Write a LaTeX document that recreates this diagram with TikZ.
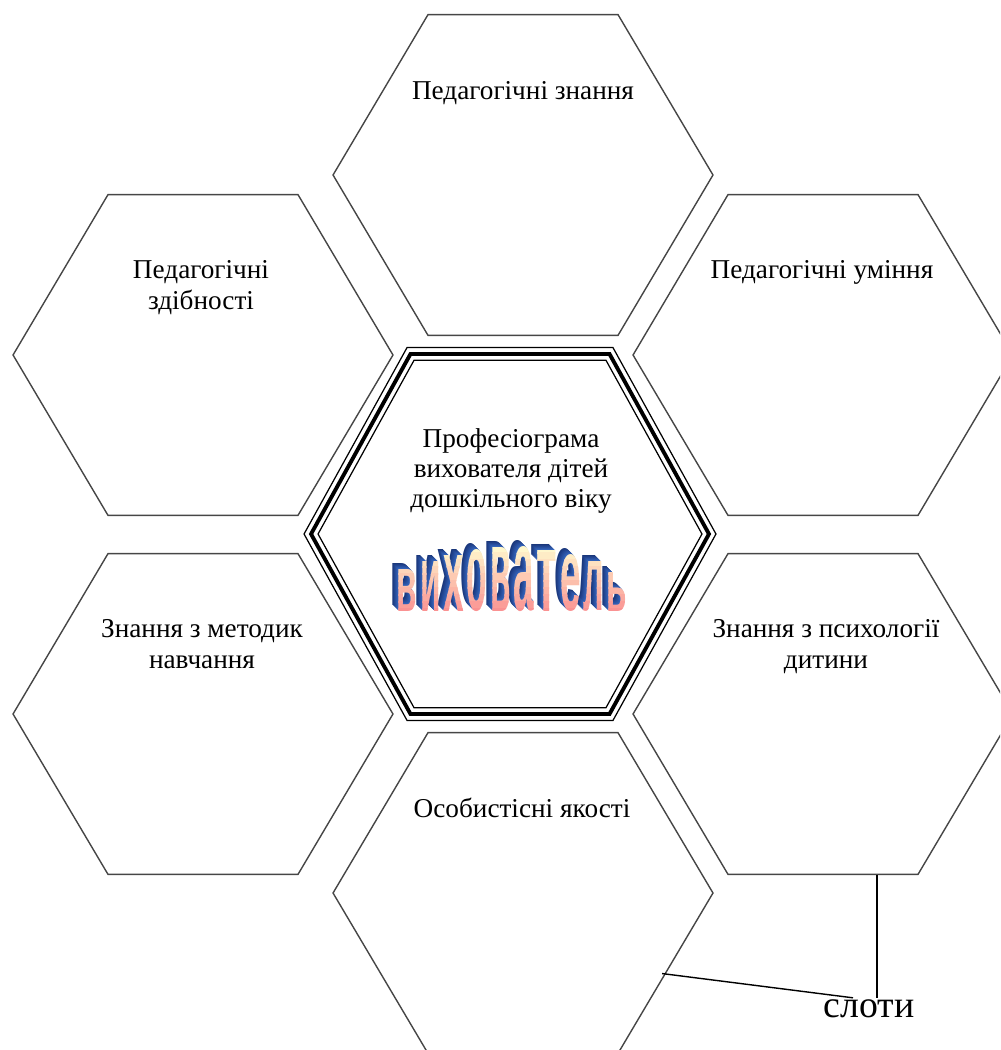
\documentclass[tikz,border=0pt]{standalone}
\usepackage{fontspec}
\setmainfont{Liberation Serif}
\newfontfamily\wordfont{Liberation Sans}
\usepackage{graphicx}
\usetikzlibrary{shapes.geometric}

\newdimen\pxu \pxu=0.02cm

\definecolor{cellline}{RGB}{70,70,70}
\definecolor{faceTop}{RGB}{255,247,205}
\definecolor{faceBot}{RGB}{250,145,145}
\definecolor{rimBlue}{RGB}{55,105,195}
\definecolor{rimNavy}{RGB}{15,35,95}

% letters of the title word, bottoms on y=0, centred on x=0
\newcommand\wordletters[1]{%
  \foreach \ch/\h [count=\i from 0] in {в/42,и/50,х/56,о/61,в/64,а/64,т/61,е/56,л/49,ь/39}
    \node[anchor=south, inner sep=0pt, text=#1] (w\i) at (-104.85+\i*23.3,0)
      {\resizebox{20.5\pxu}{\h\pxu}{\wordfont\bfseries\ch}};}

\begin{document}
\begin{tikzpicture}[x=0.02cm, y=-0.02cm,
  cell/.style={regular polygon, regular polygon sides=6, minimum size=7.6cm,
    yscale=0.975, inner sep=0pt, draw=cellline, line width=0.8pt},
  ring/.style={regular polygon, regular polygon sides=6, yscale=1.045,
    inner sep=0pt, draw=black},
  celltext/.style={align=center, inner sep=0pt,
    font=\fontsize{15.5}{17.6}\selectfont},
  leader/.style={draw=black, line width=0.8pt}]
  \useasboundingbox (0,0) rectangle (1000,1050);
  \clip (0,0) rectangle (1000,1050);

  % honeycomb around the middle
  \node[cell] (znannia)      at (523,175) {};
  \node[cell] (zdibnosti)    at (203,355) {};
  \node[cell] (uminnia)      at (823,355) {};
  \node[cell] (metodyky)     at (203,714) {};
  \node[cell] (psykholohiia) at (823,714) {};
  \node[cell] (yakosti)      at (523,893) {};

  % middle cell: thin-thick-thin frame
  \node[ring, minimum size=8.24cm, line width=0.7pt] (coreout) at (510,534) {};
  \node[ring, minimum size=7.96cm, line width=2.2pt] (core)    at (510,534) {};
  \node[ring, minimum size=7.68cm, line width=0.7pt] (corein)  at (510,534) {};

  \node[celltext] (znanniaT)      at (523,93)  {Педагогічні знання};
  \node[celltext] (zdibnostiT)    at (201,288) {Педагогічні\\здібності};
  \node[celltext] (uminniaT)      at (822,272) {Педагогічні уміння};
  \node[celltext] (metodykyT)     at (202,644) {Знання з методик\\навчання};
  \node[celltext] (psykholohiiaT) at (826,647) {Знання з психології\\дитини};
  \node[celltext] (yakostiT)      at (522,808) {Особистісні якості};
  \node[celltext, font=\fontsize{15.5}{17.3}\selectfont] (coreT) at (511,471)
    {Професіограма\\вихователя дітей\\дошкільного віку};

  % title word: blue rim first, then the face in bands
  \foreach \k in {6,...,1} {
    \pgfmathtruncatemacro\p{100-\k*12}
    \begin{scope}[shift={(512-\k,612-\k)}]
      \wordletters{rimBlue!\p!rimNavy}
    \end{scope}
  }
  \foreach \b in {0,...,9} {
    \pgfmathtruncatemacro\p{\b*11}
    \begin{scope}
      \clip (380,545+7*\b) rectangle (650,553+7*\b);
      \begin{scope}[shift={(512,612)}]
        \wordletters{faceBot!\p!faceTop}
      \end{scope}
    \end{scope}
  }

  % label for the free slots
  \node[font=\fontsize{21.5}{25}\selectfont, inner sep=1pt] (sloty) at (869,1009) {слоти};
  \coordinate (slotA) at ([xshift=1.08cm]psykholohiia.south);
  \draw[leader] (slotA) -- (slotA |- sloty.north);
  \draw[leader] ([xshift=-0.08cm]yakosti.-30) -- ([xshift=-0.32cm]sloty.north);
\end{tikzpicture}
\end{document}
